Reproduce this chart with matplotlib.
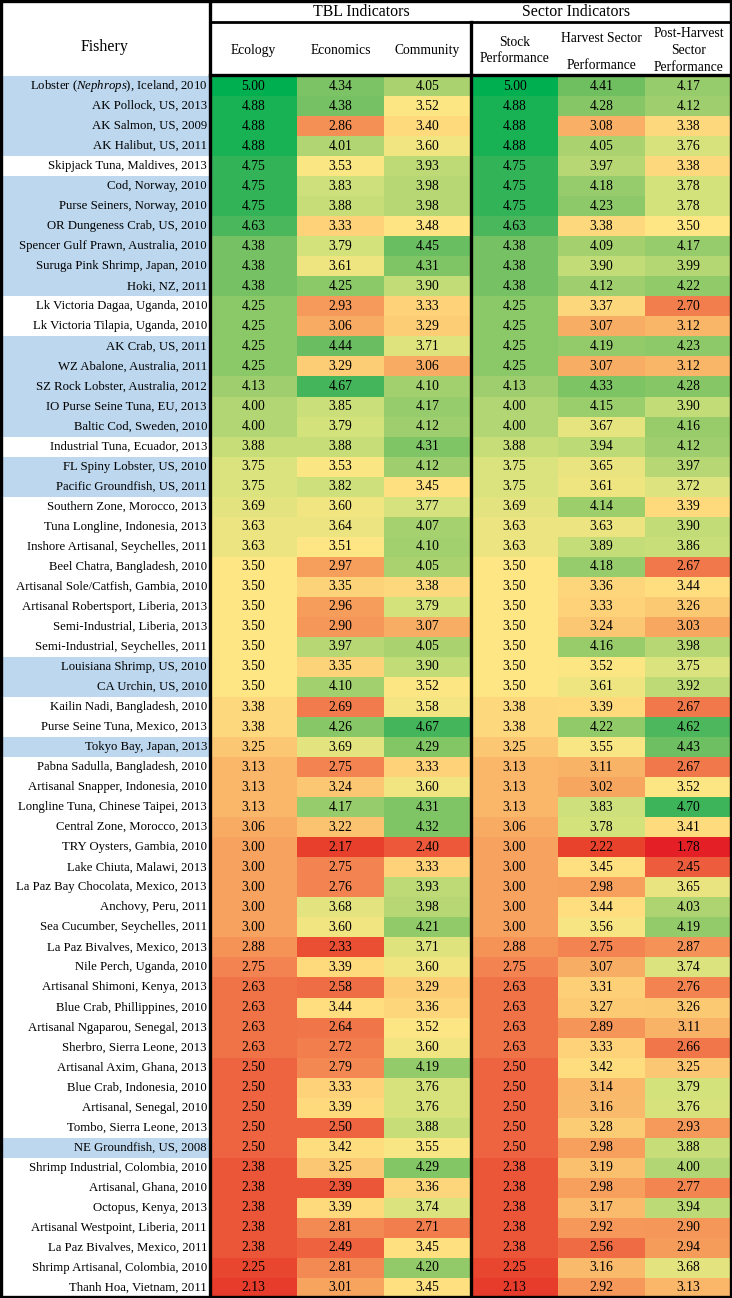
import numpy as np
import matplotlib
matplotlib.use("Agg")
import matplotlib.pyplot as plt
from matplotlib.colors import LinearSegmentedColormap, Normalize

plt.rcParams['font.family'] = ['Liberation Serif', 'DejaVu Serif']
plt.rcParams['mathtext.fontset'] = 'custom'
plt.rcParams['mathtext.rm'] = 'Liberation Serif'
plt.rcParams['mathtext.it'] = 'Liberation Serif:italic'

fisheries = [
    r"Lobster ($\it{Nephrops)}$, Iceland, 2010", "AK Pollock, US, 2013", "AK Salmon, US, 2009",
    "AK Halibut, US, 2011", "Skipjack Tuna, Maldives, 2013", "Cod, Norway, 2010",
    "Purse Seiners, Norway, 2010", "OR Dungeness Crab, US, 2010", "Spencer Gulf Prawn, Australia, 2010",
    "Suruga Pink Shrimp, Japan, 2010", "Hoki, NZ, 2011", "Lk Victoria Dagaa, Uganda, 2010",
    "Lk Victoria Tilapia, Uganda, 2010", "AK Crab, US, 2011", "WZ Abalone, Australia, 2011",
    "SZ Rock Lobster, Australia, 2012", "IO Purse Seine Tuna, EU, 2013", "Baltic Cod, Sweden, 2010",
    "Industrial Tuna, Ecuador, 2013", "FL Spiny Lobster, US, 2010", "Pacific Groundfish, US, 2011",
    "Southern Zone, Morocco, 2013", "Tuna Longline, Indonesia, 2013", "Inshore Artisanal, Seychelles, 2011",
    "Beel Chatra, Bangladesh, 2010", "Artisanal Sole/Catfish, Gambia, 2010",
    "Artisanal Robertsport, Liberia, 2013", "Semi-Industrial, Liberia, 2013",
    "Semi-Industrial, Seychelles, 2011", "Louisiana Shrimp, US, 2010", "CA Urchin, US, 2010",
    "Kailin Nadi, Bangladesh, 2010", "Purse Seine Tuna, Mexico, 2013", "Tokyo Bay, Japan, 2013",
    "Pabna Sadulla, Bangladesh, 2010", "Artisanal Snapper, Indonesia, 2010",
    "Longline Tuna, Chinese Taipei, 2013", "Central Zone, Morocco, 2013", "TRY Oysters, Gambia, 2010",
    "Lake Chiuta, Malawi, 2013", "La Paz Bay Chocolata, Mexico, 2013", "Anchovy, Peru, 2011",
    "Sea Cucumber, Seychelles, 2011", "La Paz Bivalves, Mexico, 2013", "Nile Perch, Uganda, 2010",
    "Artisanal Shimoni, Kenya, 2013", "Blue Crab, Phillippines, 2010",
    "Artisanal Ngaparou, Senegal, 2013", "Sherbro, Sierra Leone, 2013", "Artisanal Axim, Ghana, 2013",
    "Blue Crab, Indonesia, 2010", "Artisanal, Senegal, 2010", "Tombo, Sierra Leone, 2013",
    "NE Groundfish, US, 2008", "Shrimp Industrial, Colombia, 2010", "Artisanal, Ghana, 2010",
    "Octopus, Kenya, 2013", "Artisanal Westpoint, Liberia, 2011", "La Paz Bivalves, Mexico, 2011",
    "Shrimp Artisanal, Colombia, 2010", "Thanh Hoa, Vietnam, 2011",
]

ecology = [5.00, 4.88, 4.88, 4.88, 4.75, 4.75, 4.75, 4.63, 4.38, 4.38, 4.38, 4.25, 4.25, 4.25, 4.25,
           4.13, 4.00, 4.00, 3.88, 3.75, 3.75, 3.69, 3.63, 3.63, 3.50, 3.50, 3.50, 3.50, 3.50, 3.50,
           3.50, 3.38, 3.38, 3.25, 3.13, 3.13, 3.13, 3.06, 3.00, 3.00, 3.00, 3.00, 3.00, 2.88, 2.75,
           2.63, 2.63, 2.63, 2.63, 2.50, 2.50, 2.50, 2.50, 2.50, 2.38, 2.38, 2.38, 2.38, 2.38, 2.25, 2.13]
economics = [4.34, 4.38, 2.86, 4.01, 3.53, 3.83, 3.88, 3.33, 3.79, 3.61, 4.25, 2.93, 3.06, 4.44, 3.29,
             4.67, 3.85, 3.79, 3.88, 3.53, 3.82, 3.60, 3.64, 3.51, 2.97, 3.35, 2.96, 2.90, 3.97, 3.35,
             4.10, 2.69, 4.26, 3.69, 2.75, 3.24, 4.17, 3.22, 2.17, 2.75, 2.76, 3.68, 3.60, 2.33, 3.39,
             2.58, 3.44, 2.64, 2.72, 2.79, 3.33, 3.39, 2.50, 3.42, 3.25, 2.39, 3.39, 2.81, 2.49, 2.81, 3.01]
community = [4.05, 3.52, 3.40, 3.60, 3.93, 3.98, 3.98, 3.48, 4.45, 4.31, 3.90, 3.33, 3.29, 3.71, 3.06,
             4.10, 4.17, 4.12, 4.31, 4.12, 3.45, 3.77, 4.07, 4.10, 4.05, 3.38, 3.79, 3.07, 4.05, 3.90,
             3.52, 3.58, 4.67, 4.29, 3.33, 3.60, 4.31, 4.32, 2.40, 3.33, 3.93, 3.98, 4.21, 3.71, 3.60,
             3.29, 3.36, 3.52, 3.60, 4.19, 3.76, 3.76, 3.88, 3.55, 4.29, 3.36, 3.74, 2.71, 3.45, 4.20, 3.45]
stock = list(ecology)
harvest = [4.41, 4.28, 3.08, 4.05, 3.97, 4.18, 4.23, 3.38, 4.09, 3.90, 4.12, 3.37, 3.07, 4.19, 3.07,
           4.33, 4.15, 3.67, 3.94, 3.65, 3.61, 4.14, 3.63, 3.89, 4.18, 3.36, 3.33, 3.24, 4.16, 3.52,
           3.61, 3.39, 4.22, 3.55, 3.11, 3.02, 3.83, 3.78, 2.22, 3.45, 2.98, 3.44, 3.56, 2.75, 3.07,
           3.31, 3.27, 2.89, 3.33, 3.42, 3.14, 3.16, 3.28, 2.98, 3.19, 2.98, 3.17, 2.92, 2.56, 3.16, 2.92]
post_harvest = [4.17, 4.12, 3.38, 3.76, 3.38, 3.78, 3.78, 3.50, 4.17, 3.99, 4.22, 2.70, 3.12, 4.23, 3.12,
                4.28, 3.90, 4.16, 4.12, 3.97, 3.72, 3.39, 3.90, 3.86, 2.67, 3.44, 3.26, 3.03, 3.98, 3.75,
                3.92, 2.67, 4.62, 4.43, 2.67, 3.52, 4.70, 3.41, 1.78, 2.45, 3.65, 4.03, 4.19, 2.87, 3.74,
                2.76, 3.26, 3.11, 2.66, 3.25, 3.79, 3.76, 2.93, 3.88, 4.00, 2.77, 3.94, 2.90, 2.94, 3.68, 3.13]

# rows shaded blue in the label column (1-based row numbers)
highlighted = [1, 2, 3, 4, 6, 7, 8, 9, 10, 11, 14, 15, 16, 17, 18, 20, 21, 30, 31, 34, 54]

columns = ["Ecology", "Economics", "Community", "Stock\nPerformance",
           "Harvest Sector\nPerformance", "Post-Harvest\nSector\nPerformance"]
groups = ["TBL Indicators", "Sector Indicators"]

values = np.array([ecology, economics, community, stock, harvest, post_harvest]).T
n = len(fisheries)

# red - yellow - green scale
anchors = [(1.78, "#e41f26"), (2.2, "#e8412c"), (2.5, "#ee6340"), (3.0, "#f7a35f"),
           (3.25, "#fcc872"), (3.5, "#ffe684"), (3.8, "#d2e27c"), (4.1, "#a3d06e"),
           (4.4, "#72c062"), (4.7, "#3fb45a"), (5.0, "#00b050")]
vmin, vmax = anchors[0][0], anchors[-1][0]
cmap = LinearSegmentedColormap.from_list(
    "rdylgn_xl", [((v - vmin) / (vmax - vmin), c) for v, c in anchors])
norm = Normalize(vmin, vmax)

W, H = 732, 1298
fig = plt.figure(figsize=(W / 100, H / 100), dpi=100)
ax = fig.add_axes([0, 0, 1, 1])
ax.set_xlim(0, W)
ax.set_ylim(H, 0)
ax.axis("off")

label_w = 210
top = 76
xedges = np.linspace(label_w, W, 7)
yedges = np.linspace(top, H, n + 1)
xc = (xedges[:-1] + xedges[1:]) / 2
yc = (yedges[:-1] + yedges[1:]) / 2
row_h = yedges[1] - yedges[0]

ax.pcolormesh(xedges, yedges, values, cmap=cmap, norm=norm, shading="flat")

for i in range(n):
    for j in range(6):
        ax.text(xc[j], yc[i], f"{values[i, j]:.2f}", ha="center", va="center", fontsize=9.8)

bg = ["#bdd7ee" if (i + 1) in highlighted else "white" for i in range(n)]
ax.barh(yc, width=label_w - 3, left=3, height=row_h, color=bg)
for i, name in enumerate(fisheries):
    ax.text(label_w - 3, yc[i], name, ha="right", va="center", fontsize=9.2)

# header
ax.text(label_w / 2, 47, "Fishery", ha="center", va="center", fontsize=11.4)
ax.text(361, 12, groups[0], ha="center", va="center", fontsize=11.4)
ax.text(576, 12, groups[1], ha="center", va="center", fontsize=11.4)
for j, col in enumerate(columns):
    spacing = 2.35 if j == 4 else 1.4
    yy = 52 if j == 4 else 50.5
    ax.text(xc[j], yy, col, ha="center", va="center", fontsize=9.8, linespacing=spacing)

# rules
lw = 2.4
ax.plot([label_w, W], [22, 22], color="black", lw=2.0)
ax.plot([label_w, W], [top - 1, top - 1], color="black", lw=lw)
ax.plot([label_w, label_w], [0, H], color="black", lw=lw)
ax.plot([xedges[3], xedges[3]], [22, H], color="black", lw=lw)
ax.plot([1, W - 1, W - 1, 1, 1], [1, 1, H - 1, H - 1, 1], color="black", lw=lw)

fig.savefig("out.png", dpi=100)
